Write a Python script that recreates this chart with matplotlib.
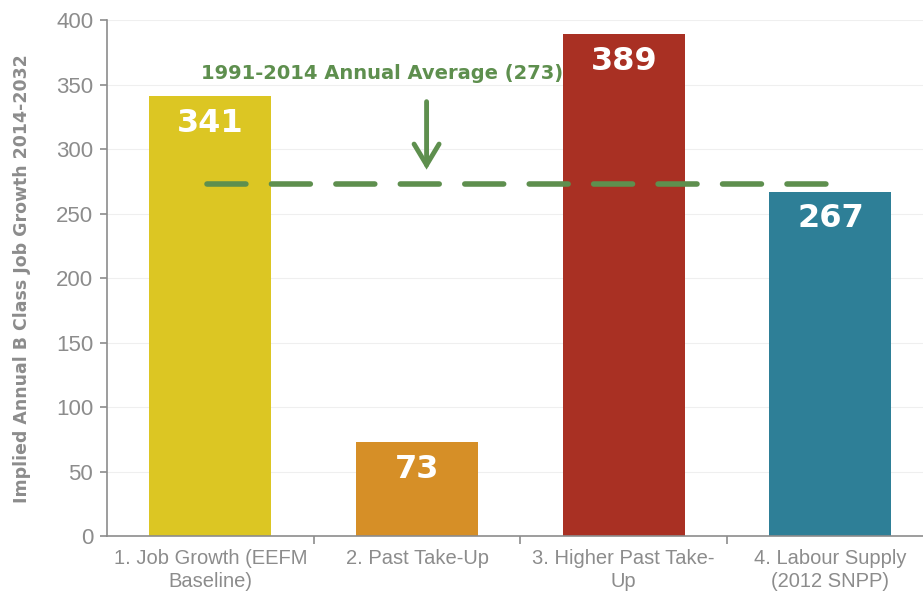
import matplotlib
matplotlib.use("Agg")
import matplotlib.pyplot as plt
import numpy as np

# region Source Data
categories = ["1. Job Growth (EEFM\nBaseline)", "2. Past Take-Up",
              "3. Higher Past Take-\nUp", "4. Labour Supply\n(2012 SNPP)"]
values = [341, 73, 389, 267]
bar_colors = ["#DCC623", "#D68F27", "#A93023", "#2E7F97"]
average = 273
average_label = "1991-2014 Annual Average (273)"
y_label = "Implied Annual B Class Job Growth 2014-2032"
# endregion

plt.rcParams['font.family'] = ['Liberation Sans', 'DejaVu Sans']
grey = "#8C8C8C"
green = "#5E8F4E"

fig = plt.figure(figsize=(9.23, 5.95), dpi=100)
ax = fig.add_axes([0.116, 0.099, 0.884, 0.867])

x = np.arange(len(categories))
ax.bar(x, values, width=0.59, color=bar_colors, zorder=2)

for xi, v in zip(x, values):
    ax.text(xi, v - 21, str(v), ha="center", va="center", color="white",
            fontsize=23, fontweight="bold", family="DejaVu Sans", zorder=3)

# average line
ax.plot([-0.015, 2.98], [average, average], color=green, lw=4, ls=(0, (7.0, 4.6)),
        dash_capstyle="round", zorder=4)
ax.annotate("", xy=(1.046, 282), xytext=(1.046, 339),
            arrowprops=dict(arrowstyle="->,head_width=0.9,head_length=1.5",
                            color=green, lw=3.5, joinstyle="miter"), zorder=4)
ax.text(0.83, 359, average_label, ha="center", va="center", color=green,
        fontsize=14, fontweight="bold", family="DejaVu Sans Condensed", zorder=4)

ax.set_xlim(-0.5, 3.448)
ax.set_ylim(0, 400)
ax.set_yticks(np.arange(0, 401, 50))
ax.set_xticks(x)
ax.set_xticklabels(categories, color=grey, fontsize=14.5, linespacing=1.3)
ax.set_xticks(np.arange(0.5, 3, 1), minor=True)
ax.tick_params(axis="x", which="major", length=0, pad=9)
ax.tick_params(axis="x", which="minor", length=6, color=grey, width=1.2)
ax.tick_params(axis="y", colors=grey, labelsize=16, length=5, width=1.2, pad=5)
ax.set_ylabel(y_label, color=grey, fontsize=12.5, fontweight="bold",
              family="DejaVu Sans Condensed", labelpad=18)
ax.yaxis.grid(True, color="#EFEFEF", lw=0.8, zorder=0)

for s in ["top", "right"]:
    ax.spines[s].set_visible(False)
for s in ["left", "bottom"]:
    ax.spines[s].set_color(grey)
    ax.spines[s].set_linewidth(1.2)

plt.savefig("out.png", dpi=100)
